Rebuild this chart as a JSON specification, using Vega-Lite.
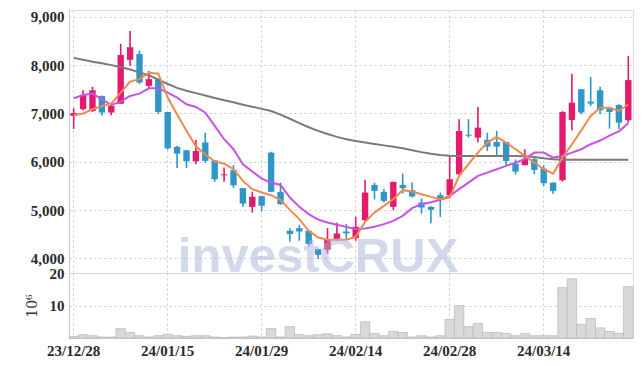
{
  "$schema": "https://vega.github.io/schema/vega-lite/v6.json",
  "padding": {"left": 24, "top": 9, "right": 8, "bottom": 4},
  "background": "white",
  "spacing": 0,
  "bounds": "flush",
  "config": {
    "view": {"stroke": "#dddddd"},
    "axis": {
      "labelFont": "Liberation Sans Narrow",
      "labelFontSize": 15,
      "labelFontWeight": "bold",
      "labelColor": "#2a2a2a",
      "gridColor": "#c5cbe0",
      "gridDash": [2, 3],
      "domainColor": "#c8c8c8",
      "ticks": false
    }
  },
  "datasets": {
    "d": [
      {"date": "23/12/28", "o": 6950, "h": 7110, "l": 6680, "c": 7010, "v": 0.5, "m5": 6963, "m20": 7314, "m60": 8150},
      {"date": "24/01/02", "o": 7090, "h": 7480, "l": 7060, "c": 7380, "v": 1.0, "m5": 7000, "m20": 7382, "m60": 8110},
      {"date": "24/01/03", "o": 7050, "h": 7550, "l": 7030, "c": 7480, "v": 0.7, "m5": 7087, "m20": 7410, "m60": 8070},
      {"date": "24/01/04", "o": 7360, "h": 7370, "l": 6960, "c": 7020, "v": 0.3, "m5": 7155, "m20": 7293, "m60": 8040},
      {"date": "24/01/05", "o": 7020, "h": 7200, "l": 6960, "c": 7160, "v": 0.3, "m5": 7202, "m20": 7176, "m60": 8000},
      {"date": "24/01/08", "o": 7200, "h": 8440, "l": 7200, "c": 8210, "v": 2.9, "m5": 7430, "m20": 7245, "m60": 7960},
      {"date": "24/01/09", "o": 8110, "h": 8705, "l": 7980, "c": 8370, "v": 1.7, "m5": 7660, "m20": 7362, "m60": 7910},
      {"date": "24/01/10", "o": 8230, "h": 8300, "l": 7610, "c": 7640, "v": 0.7, "m5": 7710, "m20": 7410, "m60": 7850},
      {"date": "24/01/11", "o": 7570, "h": 7880, "l": 7520, "c": 7710, "v": 0.3, "m5": 7843, "m20": 7520, "m60": 7790},
      {"date": "24/01/12", "o": 7710, "h": 7720, "l": 6990, "c": 7030, "v": 0.7, "m5": 7822, "m20": 7520, "m60": 7700},
      {"date": "24/01/15", "o": 7030, "h": 7030, "l": 6250, "c": 6280, "v": 1.1, "m5": 7330, "m20": 7430, "m60": 7610},
      {"date": "24/01/16", "o": 6310, "h": 6330, "l": 5870, "c": 6170, "v": 0.7, "m5": 6980, "m20": 7326, "m60": 7530},
      {"date": "24/01/17", "o": 6240, "h": 6240, "l": 5870, "c": 6010, "v": 0.5, "m5": 6640, "m20": 7190, "m60": 7470},
      {"date": "24/01/18", "o": 6010, "h": 6450, "l": 5950, "c": 6225, "v": 0.7, "m5": 6320, "m20": 7134, "m60": 7420},
      {"date": "24/01/19", "o": 6400, "h": 6600, "l": 5980, "c": 6020, "v": 0.7, "m5": 6150, "m20": 7017, "m60": 7370},
      {"date": "24/01/22", "o": 6030, "h": 6030, "l": 5585, "c": 5640, "v": 0.3, "m5": 6010, "m20": 6742, "m60": 7320},
      {"date": "24/01/23", "o": 5720, "h": 5880, "l": 5590, "c": 5740, "v": 0.1, "m5": 5960, "m20": 6467, "m60": 7275},
      {"date": "24/01/24", "o": 5827, "h": 5930, "l": 5460, "c": 5516, "v": 0.3, "m5": 5847, "m20": 6260, "m60": 7230},
      {"date": "24/01/25", "o": 5455, "h": 5455, "l": 5070, "c": 5137, "v": 0.3, "m5": 5605, "m20": 5950, "m60": 7180},
      {"date": "24/01/26", "o": 5068, "h": 5380, "l": 4950, "c": 5275, "v": 0.6, "m5": 5434, "m20": 5800, "m60": 7140},
      {"date": "24/01/29", "o": 5290, "h": 5290, "l": 4980, "c": 5090, "v": 0.3, "m5": 5364, "m20": 5653, "m60": 7095},
      {"date": "24/01/30", "o": 6190, "h": 6210, "l": 5370, "c": 5380, "v": 2.9, "m5": 5310, "m20": 5570, "m60": 7050},
      {"date": "24/01/31", "o": 5378, "h": 5570, "l": 5110, "c": 5124, "v": 0.3, "m5": 5207, "m20": 5522, "m60": 6975},
      {"date": "24/02/01", "o": 4573, "h": 4628, "l": 4345, "c": 4504, "v": 3.5, "m5": 5006, "m20": 5260, "m60": 6890},
      {"date": "24/02/02", "o": 4628, "h": 4696, "l": 4366, "c": 4558, "v": 1.1, "m5": 4814, "m20": 5068, "m60": 6800},
      {"date": "24/02/05", "o": 4573, "h": 4590, "l": 4250, "c": 4298, "v": 0.7, "m5": 4573, "m20": 4917, "m60": 6715},
      {"date": "24/02/06", "o": 4194, "h": 4200, "l": 3988, "c": 4076, "v": 1.0, "m5": 4434, "m20": 4806, "m60": 6640},
      {"date": "24/02/07", "o": 4180, "h": 4628, "l": 4103, "c": 4400, "v": 1.3, "m5": 4387, "m20": 4744, "m60": 6575},
      {"date": "24/02/08", "o": 4400, "h": 4738, "l": 4370, "c": 4517, "v": 0.7, "m5": 4387, "m20": 4700, "m60": 6515},
      {"date": "24/02/13", "o": 4558, "h": 4717, "l": 4400, "c": 4520, "v": 0.3, "m5": 4387, "m20": 4650, "m60": 6467},
      {"date": "24/02/14", "o": 4420, "h": 4862, "l": 4366, "c": 4655, "v": 1.1, "m5": 4448, "m20": 4610, "m60": 6430},
      {"date": "24/02/15", "o": 4793, "h": 5626, "l": 4765, "c": 5364, "v": 5.0, "m5": 4758, "m20": 4620, "m60": 6400},
      {"date": "24/02/16", "o": 5522, "h": 5570, "l": 5222, "c": 5399, "v": 1.4, "m5": 4950, "m20": 4655, "m60": 6370},
      {"date": "24/02/19", "o": 5378, "h": 5440, "l": 5160, "c": 5192, "v": 0.7, "m5": 5089, "m20": 4710, "m60": 6340},
      {"date": "24/02/20", "o": 5068, "h": 5590, "l": 4998, "c": 5584, "v": 2.0, "m5": 5227, "m20": 4779, "m60": 6310},
      {"date": "24/02/21", "o": 5522, "h": 5757, "l": 5343, "c": 5455, "v": 1.7, "m5": 5413, "m20": 4882, "m60": 6280},
      {"date": "24/02/22", "o": 5413, "h": 5570, "l": 5260, "c": 5281, "v": 0.3, "m5": 5385, "m20": 5041, "m60": 6240},
      {"date": "24/02/23", "o": 5157, "h": 5240, "l": 4930, "c": 5054, "v": 0.7, "m5": 5330, "m20": 5124, "m60": 6200},
      {"date": "24/02/26", "o": 5068, "h": 5080, "l": 4730, "c": 5006, "v": 0.3, "m5": 5275, "m20": 5165, "m60": 6165},
      {"date": "24/02/27", "o": 5310, "h": 5364, "l": 4861, "c": 5207, "v": 0.7, "m5": 5227, "m20": 5213, "m60": 6140},
      {"date": "24/02/28", "o": 5310, "h": 6143, "l": 5290, "c": 5640, "v": 5.7, "m5": 5260, "m20": 5296, "m60": 6125},
      {"date": "24/02/29", "o": 5744, "h": 6880, "l": 5730, "c": 6638, "v": 10.0, "m5": 5709, "m20": 5434, "m60": 6120},
      {"date": "24/03/04", "o": 6560, "h": 6880, "l": 6500, "c": 6540, "v": 3.5, "m5": 5950, "m20": 5570, "m60": 6120},
      {"date": "24/03/05", "o": 6500, "h": 7134, "l": 6400, "c": 6707, "v": 4.5, "m5": 6190, "m20": 5709, "m60": 6120},
      {"date": "24/03/06", "o": 6453, "h": 6600, "l": 6225, "c": 6314, "v": 1.7, "m5": 6397, "m20": 5777, "m60": 6120},
      {"date": "24/03/07", "o": 6410, "h": 6640, "l": 6122, "c": 6314, "v": 1.7, "m5": 6515, "m20": 5847, "m60": 6120},
      {"date": "24/03/08", "o": 6410, "h": 6410, "l": 5930, "c": 6018, "v": 1.4, "m5": 6397, "m20": 5915, "m60": 6120},
      {"date": "24/03/11", "o": 5963, "h": 6050, "l": 5740, "c": 5798, "v": 0.7, "m5": 6260, "m20": 5983, "m60": 6120},
      {"date": "24/03/12", "o": 5930, "h": 6260, "l": 5930, "c": 6066, "v": 1.4, "m5": 6122, "m20": 6054, "m60": 6115},
      {"date": "24/03/13", "o": 6054, "h": 6120, "l": 5740, "c": 5833, "v": 0.7, "m5": 5983, "m20": 6190, "m60": 6100},
      {"date": "24/03/14", "o": 5859, "h": 5930, "l": 5500, "c": 5558, "v": 0.7, "m5": 5847, "m20": 6190, "m60": 6075},
      {"date": "24/03/15", "o": 5570, "h": 5570, "l": 5337, "c": 5399, "v": 0.7, "m5": 5756, "m20": 6087, "m60": 6055},
      {"date": "24/03/18", "o": 5620, "h": 7050, "l": 5590, "c": 7030, "v": 15.5, "m5": 6087, "m20": 6122, "m60": 6045},
      {"date": "24/03/19", "o": 6866, "h": 7823, "l": 6653, "c": 7223, "v": 18.2, "m5": 6364, "m20": 6190, "m60": 6040},
      {"date": "24/03/20", "o": 7500, "h": 7500, "l": 6985, "c": 7020, "v": 4.2, "m5": 6650, "m20": 6260, "m60": 6040},
      {"date": "24/03/21", "o": 7246, "h": 7754, "l": 7155, "c": 7205, "v": 6.0, "m5": 6950, "m20": 6364, "m60": 6040},
      {"date": "24/03/22", "o": 7480, "h": 7550, "l": 6990, "c": 7066, "v": 3.1, "m5": 7120, "m20": 6440, "m60": 6040},
      {"date": "24/03/25", "o": 7100, "h": 7100, "l": 6686, "c": 7031, "v": 2.0, "m5": 7120, "m20": 6540, "m60": 6040},
      {"date": "24/03/26", "o": 7176, "h": 7190, "l": 6680, "c": 6810, "v": 1.4, "m5": 7052, "m20": 6630, "m60": 6040},
      {"date": "24/03/27", "o": 6860, "h": 8188, "l": 6810, "c": 7690, "v": 15.8, "m5": 7190, "m20": 6800, "m60": 6045}
    ]
  },
  "vconcat": [
    {
      "width": 564,
      "height": 263,
      "data": {"name": "d"},
      "encoding": {
        "x": {
          "field": "date",
          "type": "ordinal",
          "sort": null,
          "scale": {"paddingInner": 0, "paddingOuter": 0},
          "axis": {
            "labels": false,
            "domain": false,
            "ticks": false,
            "title": null,
            "grid": true,
            "values": ["23/12/28", "24/01/15", "24/01/29", "24/02/14", "24/02/28", "24/03/14"]
          }
        }
      },
      "layer": [
        {
          "mark": {"type": "rule", "strokeWidth": 1.6},
          "encoding": {
            "y": {
              "field": "l",
              "type": "quantitative",
              "scale": {"domain": [3700, 9140], "nice": false, "zero": false},
              "axis": {
                "title": null,
                "values": [4000, 5000, 6000, 7000, 8000, 9000],
                "format": ",d",
                "labelPadding": 5,
                "grid": true
              }
            },
            "y2": {"field": "h"},
            "color": {
              "condition": {"test": "datum.c >= datum.o", "value": "#e31a6e"},
              "value": "#2e96c8"
            }
          }
        },
        {
          "mark": {"type": "bar", "width": {"band": 0.68}},
          "encoding": {
            "y": {"field": "o", "type": "quantitative"},
            "y2": {"field": "c"},
            "color": {
              "condition": {"test": "datum.c >= datum.o", "value": "#e31a6e"},
              "value": "#2e96c8"
            }
          }
        },
        {
          "mark": {"type": "line", "color": "#7a7a7a", "strokeWidth": 2},
          "encoding": {"y": {"field": "m60", "type": "quantitative"}}
        },
        {
          "mark": {"type": "line", "color": "#c653e6", "strokeWidth": 2},
          "encoding": {"y": {"field": "m20", "type": "quantitative"}}
        },
        {
          "mark": {"type": "line", "color": "#ee8a50", "strokeWidth": 2},
          "encoding": {"y": {"field": "m5", "type": "quantitative"}}
        },
        {
          "data": {"values": [{"t": "investCRUX", "date": "24/02/06", "p": 3712}]},
          "mark": {
            "type": "text",
            "font": "Liberation Sans",
            "fontWeight": "bold",
            "fontSize": 49,
            "color": "#a8b2d6",
            "opacity": 0.5,
            "align": "center",
            "baseline": "alphabetic"
          },
          "encoding": {
            "y": {"field": "p", "type": "quantitative"},
            "text": {"field": "t"}
          }
        }
      ]
    },
    {
      "width": 564,
      "height": 65,
      "data": {"name": "d"},
      "mark": {"type": "bar", "fill": "#d9d9d9", "stroke": "#bdbdbd", "strokeWidth": 0.8},
      "encoding": {
        "x": {
          "field": "date",
          "type": "ordinal",
          "sort": null,
          "scale": {"paddingInner": 0, "paddingOuter": 0},
          "axis": {
            "title": null,
            "labelAngle": 0,
            "labelPadding": 5,
            "grid": true,
            "values": ["23/12/28", "24/01/15", "24/01/29", "24/02/14", "24/02/28", "24/03/14"]
          }
        },
        "y": {
          "field": "v",
          "type": "quantitative",
          "scale": {"domain": [0, 20], "nice": false},
          "axis": {
            "title": "10⁶",
            "titleFont": "DejaVu Serif",
            "titleFontSize": 14,
            "titleFontWeight": "normal",
            "titleColor": "#333333",
            "titlePadding": 10,
            "values": [10, 20],
            "labelPadding": 5,
            "grid": true
          }
        }
      }
    }
  ]
}
